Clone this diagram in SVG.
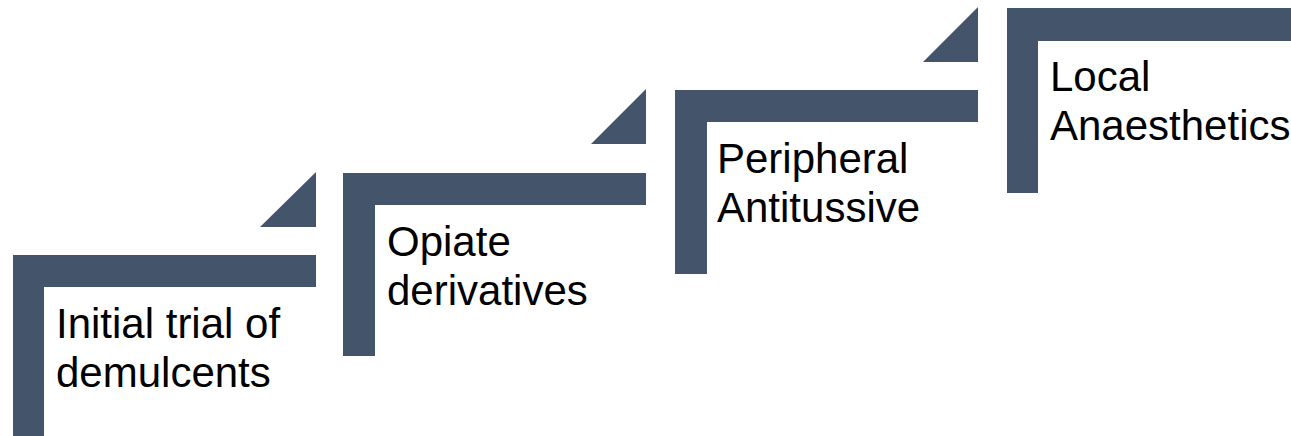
<svg xmlns="http://www.w3.org/2000/svg" width="1291" height="436" viewBox="0 0 1291 436">
  <style>
    .shape { fill: #44546A; }
    .label { font-family: "Liberation Sans", Arial, sans-serif; font-size: 42px; fill: #000000; }
  </style>
  <rect width="1291" height="436" fill="#FFFFFF"/>
  <g id="step1">
    <path class="shape" d="M13,255 H316 V287 H44 V439 H13 Z"/>
    <path class="shape" d="M316,172 V227 H260 Z"/>
    <text class="label" x="56" y="338">Initial trial of</text>
    <text class="label" x="56" y="387">demulcents</text>
  </g>
  <g id="step2">
    <path class="shape" d="M343,173 H646 V205 H375 V356 H343 Z"/>
    <path class="shape" d="M646,89 V144 H591 Z"/>
    <text class="label" x="387" y="256">Opiate</text>
    <text class="label" x="387" y="305">derivatives</text>
  </g>
  <g id="step3">
    <path class="shape" d="M675,90 H978 V122 H707 V274 H675 Z"/>
    <path class="shape" d="M978,7 V62 H923 Z"/>
    <text class="label" x="717" y="173">Peripheral</text>
    <text class="label" x="717" y="222">Antitussive</text>
  </g>
  <g id="step4">
    <path class="shape" d="M1007,8 H1291 V41 H1038 V193 H1007 Z"/>
    <text class="label" x="1050" y="91">Local</text>
    <text class="label" x="1050" y="140">Anaesthetics</text>
  </g>
  <g id="connectors"></g>
</svg>
